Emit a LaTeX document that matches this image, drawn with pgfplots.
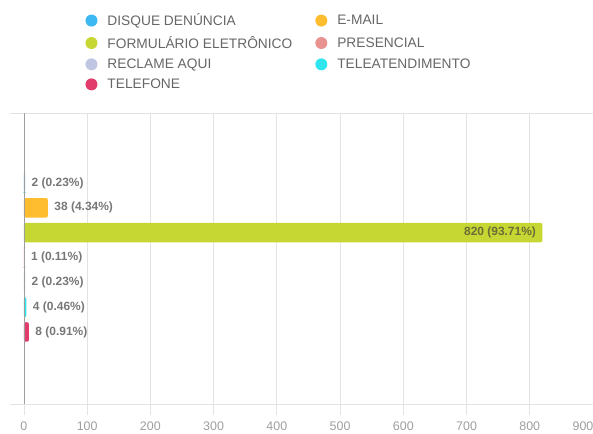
\documentclass[border=0pt]{standalone}
\usepackage{pgfplots}
\pgfplotsset{compat=1.18}
\usepackage{fontspec}
\setmainfont{Liberation Sans}
\definecolor{cDis}{HTML}{3DB8F2}
\definecolor{cEm}{HTML}{FDBD2E}
\definecolor{cFor}{HTML}{C6D633}
\definecolor{cPre}{HTML}{E89292}
\definecolor{cRec}{HTML}{BFC6E2}
\definecolor{cTel}{HTML}{2FE6EE}
\definecolor{cFon}{HTML}{E23C6C}
\definecolor{gridc}{HTML}{E3E3E3}
\definecolor{lblc}{HTML}{777777}
\definecolor{legc}{HTML}{666666}
\definecolor{c820}{HTML}{6A6D36}
\begin{document}
\begin{tikzpicture}[x=1bp,y=1bp]
\path[use as bounding box] (0,0) rectangle (593,434);
\begin{axis}[
  at={(10bp,30bp)}, anchor=south west,
  scale only axis, width=583bp, height=291bp,
  xbar, bar width=19.5bp, bar shift=0pt,
  xmin=-22, xmax=900,
  ymin=-2.9, ymax=8.82,
  ytick=\empty,
  xtick={0,100,...,800},
  extra x ticks={900},
  extra x tick style={tick style={draw=none}, xticklabel style={xshift=-10bp}},
  xmajorgrids, grid style={gridc, line width=0.8bp},
  axis line style={gridc, line width=0.8bp},
  axis x line*=bottom, axis y line=none,
  tick style={gridc, line width=0.8bp},
  major tick length=11bp, tick align=outside,
  xticklabel style={font=\fontsize{12.5}{14}\selectfont, text=black!38, yshift=-3bp},
  /pgf/number format/assume math mode=true,
  point meta=explicit symbolic,
  nodes near coords={\pgfplotspointmeta},
  every node near coord/.append style={font=\bfseries\fontsize{12}{13}\selectfont, text=lblc, anchor=west, xshift=3bp},
  legend columns=2,
  legend style={draw=none, fill=none, at={(axis description cs:0.124,1.355)}, anchor=north west,
    font=\fontsize{13.8}{15}\selectfont, text=legc, column sep=8bp, row sep=5bp,
    /tikz/every even column/.append style={column sep=21bp}},
  legend cell align=left,
  legend image code/.code={\fill[#1] (4bp,0) circle (6bp);},
  clip=false,
]
\addplot[fill=cDis, draw=none, rounded corners=2bp] coordinates {(2,6) [2 (0.23\%)]};
\addlegendentry{DISQUE DENÚNCIA}
\addplot[fill=cEm, draw=none, rounded corners=2bp] coordinates {(38,5) [38 (4.34\%)]};
\addlegendentry{E-MAIL}
\addplot[fill=cFor, draw=none, rounded corners=2bp,
  every node near coord/.append style={anchor=east, xshift=-6bp, text=c820}] coordinates {(820,4) [820 (93.71\%)]};
\addlegendentry{FORMULÁRIO ELETRÔNICO}
\addplot[fill=cPre, draw=none, rounded corners=2bp] coordinates {(1,3) [1 (0.11\%)]};
\addlegendentry{PRESENCIAL}
\addplot[fill=cRec, draw=none, rounded corners=2bp] coordinates {(2,2) [2 (0.23\%)]};
\addlegendentry{RECLAME AQUI}
\addplot[fill=cTel, draw=none, rounded corners=2bp] coordinates {(4,1) [4 (0.46\%)]};
\addlegendentry{TELEATENDIMENTO}
\addplot[fill=cFon, draw=none, rounded corners=2bp] coordinates {(8,0) [8 (0.91\%)]};
\addlegendentry{TELEFONE}
\draw[gridc, line width=0.8bp] (axis description cs:0,0) -- (axis description cs:1,0);
\draw[gridc, line width=0.8bp] (axis description cs:0,1) -- (axis description cs:1,1);
\draw[black!38, line width=0.8bp] (axis cs:0,-2.9) -- (axis cs:0,8.82);
\end{axis}
\end{tikzpicture}
\end{document}
